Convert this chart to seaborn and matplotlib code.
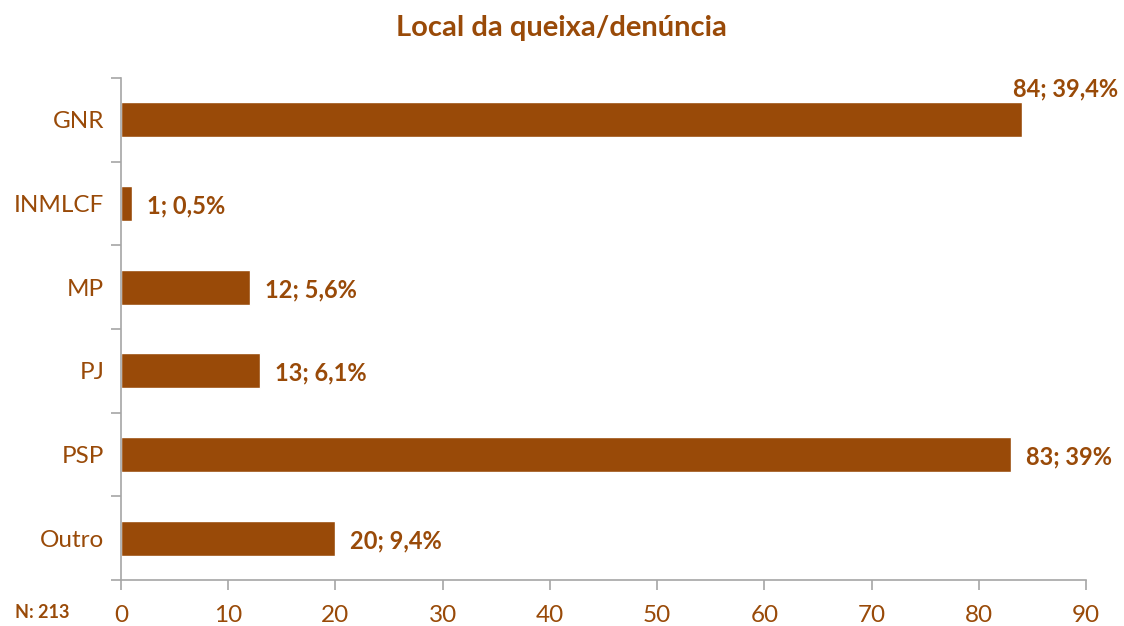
import matplotlib
matplotlib.use("Agg")
import matplotlib.pyplot as plt
import seaborn as sns
import pandas as pd
import numpy as np
from matplotlib.ticker import FixedLocator, MultipleLocator

categories = ["GNR", "INMLCF", "MP", "PJ", "PSP", "Outro"]
values = [84, 1, 12, 13, 83, 20]
labels = ["84; 39,4%", "1; 0,5%", "12; 5,6%", "13; 6,1%", "83; 39%", "20; 9,4%"]
title = "Local da queixa/denúncia"
note = "N: 213"

COL = "#994A08"
GRID = "#a6a6a6"

sns.set_theme(style="white")
plt.rcParams["font.family"] = ["Lato", "DejaVu Sans"]

df = pd.DataFrame({"cat": categories, "val": values})

fig = plt.figure(figsize=(11.24, 6.26), dpi=100)
ax = fig.add_axes([121/1124, 1-580/626, (1086-121)/1124, (580-78)/626])
sns.barplot(data=df, x="val", y="cat", orient="h", color=COL, saturation=1,
            width=0.42, ax=ax)

ax.set_xlim(0, 90)
ax.set_ylim(5.5, -0.5)
ax.xaxis.set_major_locator(MultipleLocator(10))
ax.set_xlabel("")
ax.set_ylabel("")
for s in ["top", "right"]:
    ax.spines[s].set_visible(False)
for s in ["left", "bottom"]:
    ax.spines[s].set_color(GRID)
    ax.spines[s].set_linewidth(1.2)

ax.tick_params(axis="y", which="major", length=0, labelsize=17.5, labelcolor=COL, pad=12)
ax.yaxis.set_minor_locator(FixedLocator(np.arange(-0.5, 6.0, 1.0)))
ax.tick_params(axis="y", which="minor", length=7, color=GRID, width=1.2, left=True)
ax.tick_params(axis="x", which="major", length=7, color=GRID, width=1.2, bottom=True,
               labelsize=17.5, labelcolor=COL, pad=11)

for i, (v, lab) in enumerate(zip(values, labels)):
    if i == 0:
        ax.text(93, i - 0.23, lab, ha="right", va="bottom", fontsize=17,
                fontweight="bold", color=COL)
    else:
        ax.text(v + 1.4, i + 0.03, lab, ha="left", va="center", fontsize=17,
                fontweight="bold", color=COL)

fig.text(561/1124, 1-28/626, title, ha="center", va="center", fontsize=21,
         fontweight="bold", color=COL)
fig.text(15/1124, 1-613/626, note, ha="left", va="center", fontsize=13,
         fontweight="bold", color=COL)

fig.savefig("out.png", dpi=100)
